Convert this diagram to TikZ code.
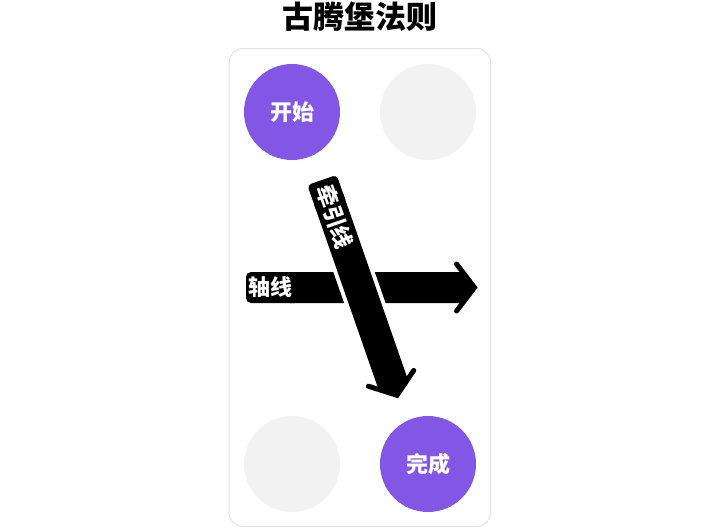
\documentclass[tikz,border=0pt]{standalone}
\usepackage{fontspec}
\newfontfamily\cjk{Noto Sans CJK SC}
\usetikzlibrary{calc}
\definecolor{purp}{HTML}{8257E5}
\definecolor{lgray}{HTML}{F2F2F2}
\definecolor{framec}{HTML}{E2E2E2}
\begin{document}
\begin{tikzpicture}[x=1pt,y=-1pt,
  lbl/.style={font=\cjk\bfseries\fontsize{22}{22}\selectfont, text=white, inner sep=0pt},
  disc/.style={circle, minimum size=96pt, inner sep=0pt},
  chev/.style={line width=5pt, line cap=round, line join=miter}]
\useasboundingbox (0,0) rectangle (720,528);
\node[font=\cjk\bfseries\fontsize{31}{31}\selectfont, inner sep=0pt] (title) at (360,17) {古腾堡法则};
\draw[framec, line width=1pt, rounded corners=14pt] (229,48.5) rectangle (490.5,526.5);
\node[disc, fill=purp, lbl] (start) at (292,112) {开始};
\node[disc, fill=lgray] (tr) at (428,112) {};
\node[disc, fill=lgray] (bl) at (292,464) {};
\node[disc, fill=purp, lbl] (done) at (428,464) {完成};
% horizontal axis arrow
\coordinate (hs) at (246,287.5);
\coordinate (he) at (474.5,287.5);
\fill[black, rounded corners=5pt] (300,272) -- (246,272) -- (246,303) -- (300,303) -- cycle;
\fill[black] (290,272) -- (465.5,272) -- (474.5,287.5) -- (465.5,303) -- (290,303) -- cycle;
\draw[chev] (456.5,264) -- (he) -- (456.5,311);
\node[lbl, anchor=west] (axis) at (248,287.5) {轴线};
% diagonal guide arrow
\coordinate (ds) at (322,180);
\coordinate (de) at (398,398);
\begin{scope}[shift={(ds)}, rotate=-70.8]
  \draw[white, line width=8pt] (0,-15.5) -- (216.4,-15.5) -- (228,0) -- (216.4,15.5) -- (0,15.5);
  \fill[black, rounded corners=4pt] (30,-15.5) -- (0,-15.5) -- (0,15.5) -- (30,15.5) -- cycle;
  \fill[black] (20,-15.5) -- (216.4,-15.5) -- (228,0) -- (216.4,15.5) -- (20,15.5) -- cycle;
  \draw[chev] (210,-24) -- (228,0) -- (210,24);
  \node[lbl, transform shape] (guide) at (39,0) {牵引线};
\end{scope}
\end{tikzpicture}
\end{document}
